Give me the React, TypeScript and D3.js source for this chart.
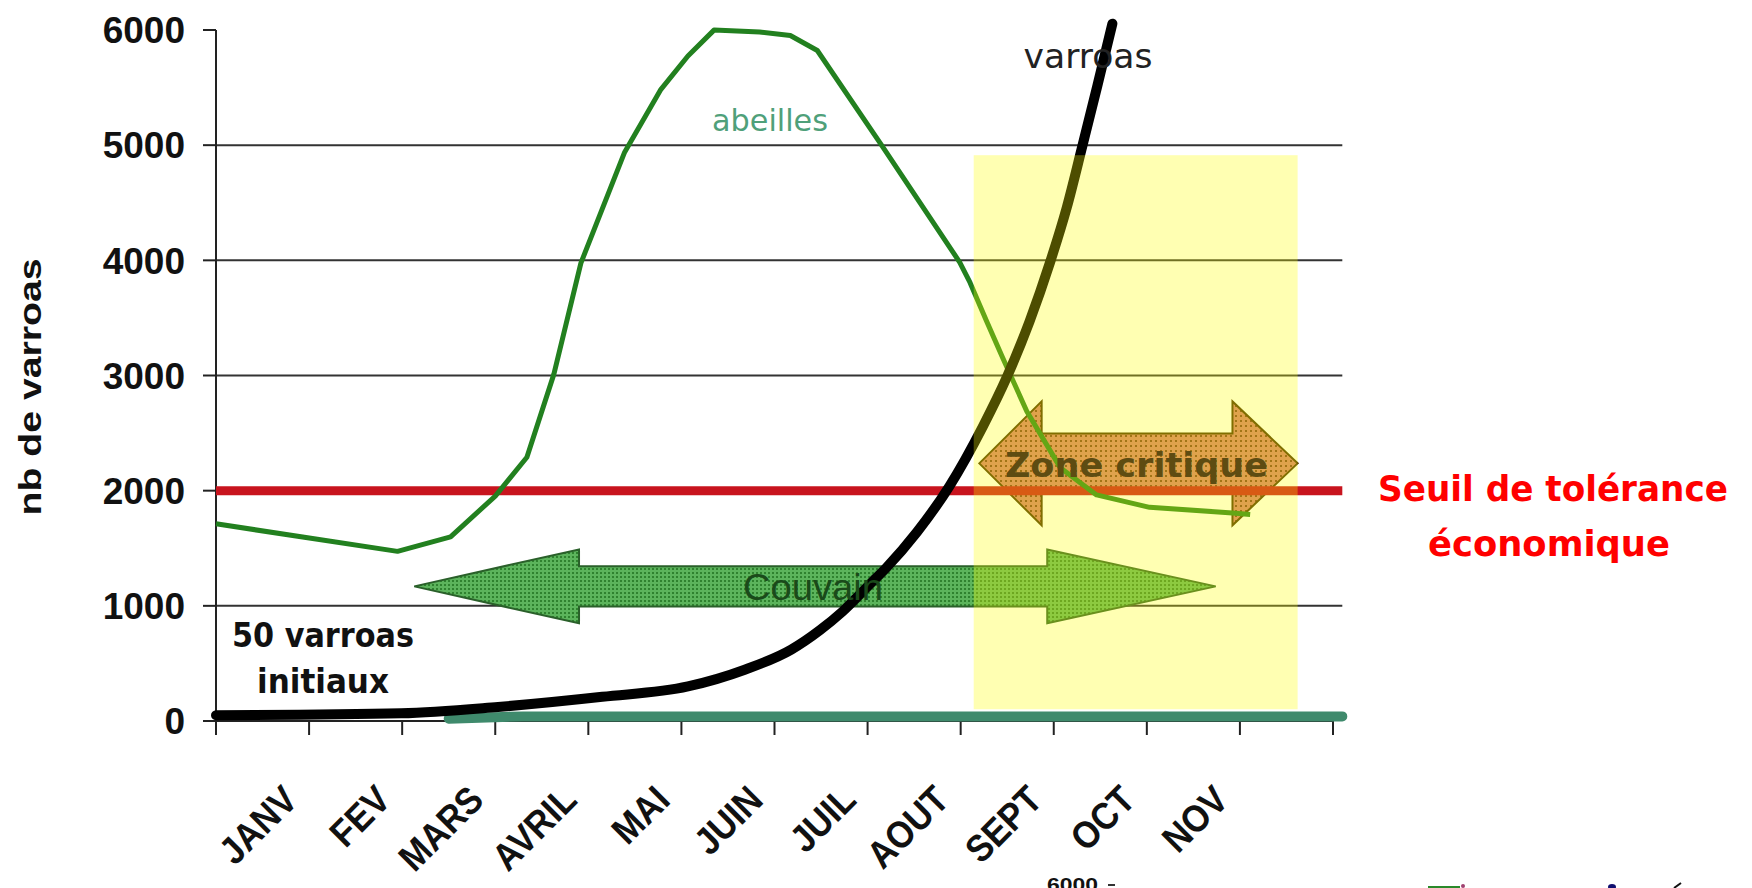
import * as d3 from 'd3';

// mois (catégories de l'axe X)
const months = ['JANV', 'FEV', 'MARS', 'AVRIL', 'MAI', 'JUIN', 'JUIL', 'AOUT', 'SEPT', 'OCT', 'NOV'];
const nbSlots = 12;
const yTicks = [0, 1000, 2000, 3000, 4000, 5000, 6000];
const gridValues = [1000, 3000, 4000, 5000];

// abeilles (position en mois, valeur)
const abeillesMonth = [0, 1.95, 2.52, 3.0, 3.34, 3.63, 3.92, 4.39, 4.78, 5.07, 5.35, 5.84, 6.17, 6.46, 7.15, 7.99, 8.1, 8.28, 8.45, 8.71, 9.07, 9.46, 10.03, 10.92, 11.11];
const abeillesValue = [1712, 1473, 1599, 1953, 2290, 3012, 3976, 4939, 5485, 5774, 5999, 5983, 5952, 5822, 5001, 3983, 3808, 3469, 3156, 2690, 2200, 1963, 1855, 1807, 1794];

// varroas
const varroasMonth = [0, 1.99, 3.03, 4.15, 5.07, 5.68, 6.18, 6.49, 6.73, 7.04, 7.2, 7.53, 7.88, 8.24, 8.5, 8.74, 8.96, 9.14, 9.31, 9.47, 9.63];
const varroasValue = [50, 67, 122, 210, 300, 445, 620, 790, 950, 1200, 1330, 1640, 2040, 2560, 2993, 3469, 3982, 4459, 5001, 5520, 6055];

// ligne basse
const fondMonth = [2.5, 3.3, 12.1];
const fondValue = [20, 40, 40];

const seuil = 2000;
const seuilEnd = 12.1;

// annotations (mois / valeurs)
const couvain = { x0: 2.13, b0: 3.9, b1: 8.93, x1: 10.74, v: 1169, shaft: 174, head: 321 };
const zone = { x0: 8.2, b0: 8.87, b1: 10.92, x1: 11.62, v: 2237, shaft: 260, head: 538 };
const critique = { x0: 8.14, x1: 11.62, v0: 102, v1: 4913 };

const W = 1752, H = 888;

const x = d3.scaleLinear().domain([0, nbSlots]).range([216, 1333]);
const y = d3.scaleLinear().domain([0, 6000]).range([721, 30]);

const line = d3.line<[number, number]>().x(d => x(d[0])).y(d => y(d[1]));
const smooth = d3.line<[number, number]>().x(d => x(d[0])).y(d => y(d[1])).curve(d3.curveMonotoneX);

function arrowPath(a: typeof couvain) {
    const pts: [number, number][] = [
        [a.x0, a.v], [a.b0, a.v + a.head], [a.b0, a.v + a.shaft], [a.b1, a.v + a.shaft],
        [a.b1, a.v + a.head], [a.x1, a.v], [a.b1, a.v - a.head], [a.b1, a.v - a.shaft],
        [a.b0, a.v - a.shaft], [a.b0, a.v - a.head],
    ];
    return line(pts) + 'Z';
}

const App = () => {
    const abeilles = abeillesMonth.map((m, i) => [m, abeillesValue[i]] as [number, number]);
    const varroas = varroasMonth.map((m, i) => [m, varroasValue[i]] as [number, number]);
    const fond = fondMonth.map((m, i) => [m, fondValue[i]] as [number, number]);

    return (
        <svg width={W} height={H} style={{ position: 'absolute', left: 0, top: 0, background: '#fff' }}>
            <defs>
                <pattern id="dotsGreen" width="4" height="4" patternUnits="userSpaceOnUse">
                    <rect width="4" height="4" fill="#5cb45c" />
                    <rect width="2" height="2" fill="#2f822f" />
                </pattern>
                <pattern id="dotsOrange" width="5" height="5" patternUnits="userSpaceOnUse">
                    <rect width="5" height="5" fill="#d27a6e" />
                    <rect width="2" height="2" fill="#7a3a20" />
                </pattern>
            </defs>

            {/* grille */}
            {gridValues.map(v => (
                <line key={v} x1={x(0)} x2={x(seuilEnd)} y1={y(v)} y2={y(v)} stroke="#333" strokeWidth={2} />
            ))}

            {/* axes */}
            <line x1={x(0)} x2={x(0)} y1={y(6000)} y2={735} stroke="#222" strokeWidth={2} />
            <line x1={x(0)} x2={x(nbSlots)} y1={y(0)} y2={y(0)} stroke="#222" strokeWidth={2} />
            {yTicks.map(v => (
                <g key={v}>
                    <line x1={203} x2={x(0)} y1={y(v)} y2={y(v)} stroke="#222" strokeWidth={2} />
                    <text x={185} y={y(v)} dy="0.36em" textAnchor="end" fontFamily="Liberation Sans, Arial, sans-serif"
                        fontWeight="bold" fontSize={37} fill="#111">{v}</text>
                </g>
            ))}
            {d3.range(nbSlots + 1).map(i => (
                <line key={i} x1={x(i)} x2={x(i)} y1={y(0)} y2={735} stroke="#222" strokeWidth={2} />
            ))}
            {months.map((m, i) => (
                <text key={m} transform={`translate(${x(i + 0.5) + 37},802) rotate(-45) scale(0.9,1)`} textAnchor="end"
                    fontFamily="Liberation Sans, Arial, sans-serif" fontWeight="bold" fontSize={38} fill="#111">{m}</text>
            ))}
            <text transform="translate(41,387) rotate(-90)" textAnchor="middle" fontFamily="Liberation Sans, Arial, sans-serif"
                fontWeight="bold" fontSize={32} textLength={257} lengthAdjust="spacingAndGlyphs" fill="#111">nb de varroas</text>

            {/* flèches */}
            <path d={arrowPath(couvain)} fill="url(#dotsGreen)" stroke="#2a602a" strokeWidth={2} />
            <path d={arrowPath(zone)} fill="url(#dotsOrange)" stroke="#4a3000" strokeWidth={2} />

            {/* séries */}
            <path d={line(fond)!} fill="none" stroke="#3f8a6c" strokeWidth={10} strokeLinecap="round" />
            <line x1={x(0)} x2={x(seuilEnd)} y1={y(seuil)} y2={y(seuil)} stroke="#c8141e" strokeWidth={9} />
            <path d={line(abeilles)!} fill="none" stroke="#22801f" strokeWidth={5} strokeLinejoin="round" />
            <path d={smooth(varroas)!} fill="none" stroke="#000" strokeWidth={10} strokeLinejoin="round" strokeLinecap="round" />

            {/* zone critique (jaune transparent) */}
            <rect x={x(critique.x0)} y={y(critique.v1)} width={x(critique.x1) - x(critique.x0)}
                height={y(critique.v0) - y(critique.v1)} fill="#ffff00" opacity={0.3} />

            <text x={x((zone.x0 + zone.x1) / 2) - 2} y={477} textAnchor="middle" fontFamily="DejaVu Sans, sans-serif"
                fontWeight="bold" fontSize={34} textLength={263} lengthAdjust="spacingAndGlyphs" fill="#5e4c12">Zone critique</text>
            <text x={813} y={600} textAnchor="middle" fontFamily="Liberation Sans, Arial, sans-serif"
                fontSize={37} textLength={140} lengthAdjust="spacingAndGlyphs" fill="#1a4a1a">Couvain</text>

            <text x={770} y={131} textAnchor="middle" fontFamily="DejaVu Sans, sans-serif" fontSize={30}
                textLength={116} lengthAdjust="spacingAndGlyphs" fill="#4fa07a">abeilles</text>
            <text x={1088} y={68} textAnchor="middle" fontFamily="DejaVu Sans, sans-serif" fontSize={34}
                textLength={129} lengthAdjust="spacingAndGlyphs" fill="#222">varroas</text>

            <text x={323} y={647} textAnchor="middle" fontFamily="DejaVu Sans, sans-serif" fontWeight="bold"
                fontSize={33} textLength={182} lengthAdjust="spacingAndGlyphs" fill="#111">50 varroas</text>
            <text x={323} y={693} textAnchor="middle" fontFamily="DejaVu Sans, sans-serif" fontWeight="bold"
                fontSize={33} textLength={132} lengthAdjust="spacingAndGlyphs" fill="#111">initiaux</text>

            <text x={1553} y={501} textAnchor="middle" fontFamily="DejaVu Sans, sans-serif" fontWeight="bold"
                fontSize={36} textLength={350} lengthAdjust="spacingAndGlyphs" fill="#ff0000">Seuil de tolérance</text>
            <text x={1549} y={556} textAnchor="middle" fontFamily="DejaVu Sans, sans-serif" fontWeight="bold"
                fontSize={36} textLength={242} lengthAdjust="spacingAndGlyphs" fill="#ff0000">économique</text>

            {/* fragment d'une autre figure, coupé en bas */}
            <text x={1047} y={891} fontFamily="Liberation Sans, Arial, sans-serif" fontWeight="bold" fontSize={18}
                textLength={51} lengthAdjust="spacingAndGlyphs" fill="#111">6000</text>
            <line x1={1108} x2={1115} y1={885} y2={885} stroke="#333" strokeWidth={2} />
            <line x1={1428} x2={1460} y1={887} y2={887} stroke="#2a8a2a" strokeWidth={2} />
            <circle cx={1463} cy={886} r={2} fill="#a04070" />
            <ellipse cx={1612} cy={887} rx={4} ry={3} fill="#101070" />
            <line x1={1674} x2={1681} y1={888} y2={883} stroke="#111" strokeWidth={2} />
        </svg>
    );
};

export default App;
